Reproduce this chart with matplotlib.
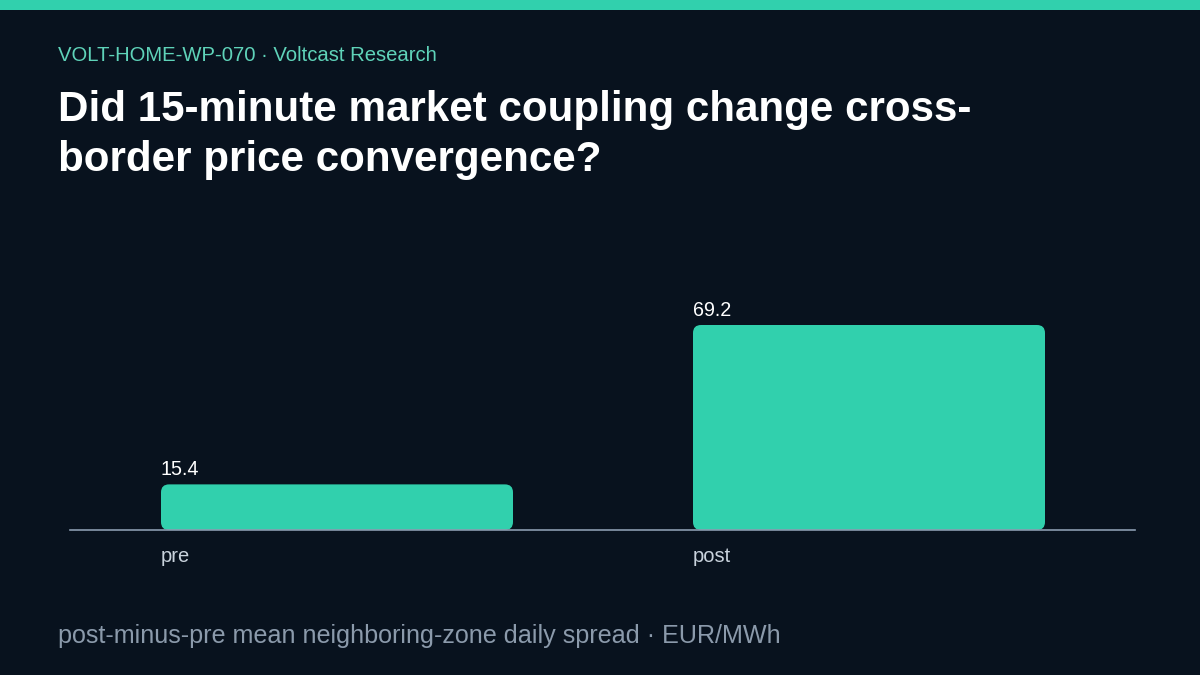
import matplotlib.pyplot as plt
from matplotlib.patches import FancyBboxPatch

# data
categories = ["pre", "post"]
values = [15.4, 69.2]
value_labels = ["15.4", "69.2"]

subtitle = "VOLT-HOME-WP-070 · Voltcast Research"
title_lines = ["Did 15-minute market coupling change cross-", "border price convergence?"]
footer = "post-minus-pre mean neighboring-zone daily spread · EUR/MWh"

BG = "#08121e"
TEAL = "#31d0ad"
W, H = 1200, 675

plt.rcParams["font.family"] = ["Liberation Sans", "DejaVu Sans"]

fig = plt.figure(figsize=(12, 6.75), dpi=100, facecolor=BG)

# top accent band
fig.patches.append(plt.Rectangle((0, 1 - 10 / H), 1, 10 / H, transform=fig.transFigure,
                                 facecolor=TEAL, edgecolor="none"))

fig.text(58 / W, 1 - 61 / H, subtitle, color="#5fd3b9", fontsize=14.6, va="baseline")
for i, line in enumerate(title_lines):
    fig.text(58 / W, 1 - (121 + 50 * i) / H, line, color="white", fontsize=30.3,
             fontweight="bold", va="baseline")
fig.text(58 / W, 1 - 643 / H, footer, color="#8b9aab", fontsize=18.1, va="baseline")

# axes: baseline at y=530px, x from 70 to 1135px
ax_left, ax_right = 70, 1135
ax_bottom, ax_top = 530, 230
ax = fig.add_axes([ax_left / W, 1 - ax_bottom / H, (ax_right - ax_left) / W,
                   (ax_bottom - ax_top) / H])
ax.set_facecolor(BG)

step = 532.0
bar_w = 352 / step
x_pos = list(range(len(categories)))
ax.set_xlim(-91 / step, x_pos[-1] + bar_w + 90 / step)
px_per_unit = 205 / 69.2
ax.set_ylim(0, (ax_bottom - ax_top) / px_per_unit)

# rounded bars
fig.canvas.draw()
to_px = ax.transData
x0p, y0p = to_px.transform((0, 0))
x1p, y1p = to_px.transform((1, 1))
ux = x1p - x0p  # px per x unit
uy = y1p - y0p  # px per y unit
radius_px = 8
for x, v, lab in zip(x_pos, values, value_labels):
    patch = FancyBboxPatch((x, 0), bar_w, v,
                           boxstyle=f"round,pad=0,rounding_size={radius_px / ux}",
                           mutation_aspect=ux / uy,
                           facecolor=TEAL, edgecolor="none", zorder=2)
    ax.add_patch(patch)
    ax.text(x, v + 9 / uy, lab, color="white", fontsize=14.2, ha="left", va="baseline")

for s in ["top", "right", "left"]:
    ax.spines[s].set_visible(False)
ax.spines["bottom"].set_color("#8a9bb0")
ax.spines["bottom"].set_linewidth(1.2)
ax.spines["bottom"].set_zorder(3)
ax.set_yticks([])
ax.set_xticks(x_pos)
ax.set_xticklabels(categories, ha="left", color="#c9d3dd", fontsize=14.5)
ax.tick_params(axis="x", length=0, pad=12)

fig.savefig("out.png", dpi=100, facecolor=BG)
